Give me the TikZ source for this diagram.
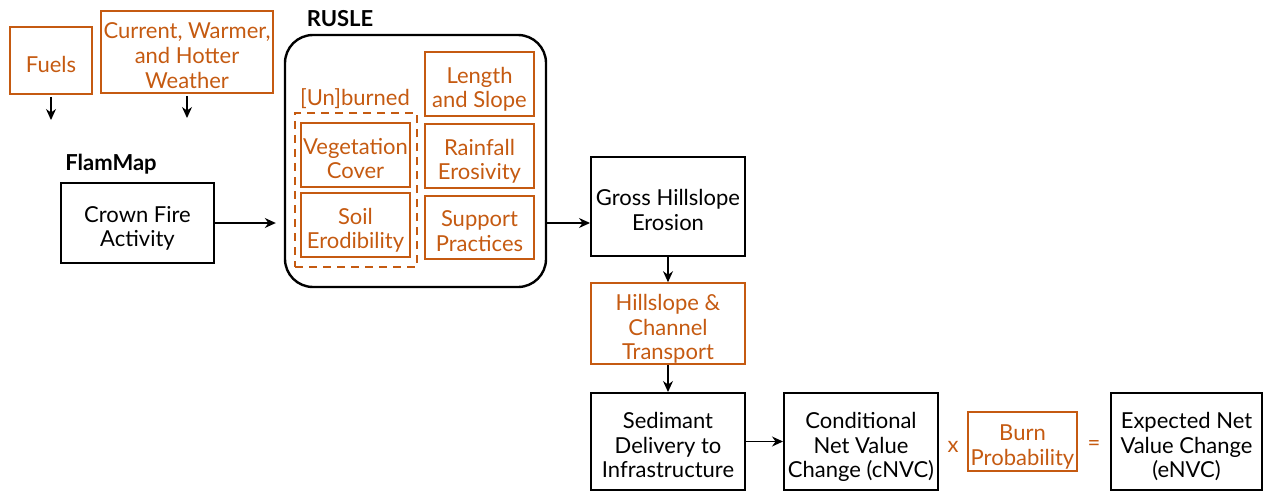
\documentclass[tikz,border=0pt]{standalone}
\usepackage{fontspec}
\setmainfont{Lato}
\usetikzlibrary{arrows.meta}
\definecolor{org}{RGB}{197,90,17}
\newcommand{\tx}[1]{\raisebox{-3.3pt}[\height][\depth]{\begin{tabular}{@{}c@{}}#1\end{tabular}}}
\tikzset{
  box/.style={draw=black, line width=1pt, align=center, inner sep=0pt, font=\fontsize{11}{12.4}\selectfont},
  obox/.style={draw=org, line width=0.8pt, text=org, align=center, inner sep=0pt, font=\fontsize{11}{12.4}\selectfont},
  lbl/.style={font=\fontsize{11}{12.4}\selectfont\bfseries, inner sep=0pt},
  olbl/.style={text=org, font=\fontsize{11}{12.4}\selectfont, inner sep=0pt},
  arr/.style={-{Stealth[length=5.5pt,width=5pt]}, line width=0.6pt}
}
\begin{document}
\begin{tikzpicture}[x=0.5pt,y=-0.5pt]
\useasboundingbox (0,0) rectangle (1263,492);
% top inputs
\node[obox, minimum width=41pt, minimum height=33.5pt] (fuels) at (51,60.5) {\tx{Fuels}};
\node[obox, minimum width=86pt, minimum height=41pt] (weather) at (187,52) {\tx{Current, Warmer,\\and Hotter\\Weather}};
\coordinate (fuelsEnd) at (51,120);
\coordinate (weatherEnd) at (187,118);
\draw[arr] ([yshift=-1pt]fuels.south) -- (fuelsEnd);
\draw[arr] ([yshift=-1pt]weather.south) -- (weatherEnd);
% FlamMap
\node[lbl] (flam) at (111,164) {FlamMap};
\node[box, minimum width=76.5pt, minimum height=40pt] (crown) at (137.5,223) {\tx{Crown Fire\\Activity}};
% RUSLE
\node[lbl] (ruslelbl) at (340,19) {RUSLE};
\node[draw=black, line width=1.2pt, rounded corners=14pt, minimum width=130.5pt, minimum height=126pt, inner sep=0pt] (rusle) at (415.5,161) {};
\node[olbl] (unb) at (355,98.5) {[Un]burned};
\node[draw=org, line width=1.2pt, dash pattern=on 4pt off 3pt, minimum width=61pt, minimum height=77pt, inner sep=0pt] (dash) at (356,190) {};
\node[obox, minimum width=54.5pt, minimum height=32pt] (veg) at (355.5,155) {\tx{Vegetation\\Cover}};
\node[obox, minimum width=54.5pt, minimum height=32pt] (soil) at (355.5,225) {\tx{Soil\\Erodibility}};
\node[obox, minimum width=54.5pt, minimum height=32pt] (len) at (479.5,84) {\tx{Length\\and Slope}};
\node[obox, minimum width=54.5pt, minimum height=32pt] (rain) at (479.5,156) {\tx{Rainfall\\Erosivity}};
\node[obox, minimum width=54.5pt, minimum height=31.5pt] (supp) at (479.5,227.5) {\tx{Support\\Practices}};
% right chain
\node[box, minimum width=77pt, minimum height=49.5pt] (gross) at (668,206.5) {\tx{Gross Hillslope\\Erosion}};
\node[obox, minimum width=77pt, minimum height=40.5pt] (trans) at (668,323.5) {\tx{Hillslope \&\\Channel\\Transport}};
\node[box, minimum width=77pt, minimum height=48.5pt] (sed) at (668,441.5) {\tx{Sedimant\\Delivery to\\Infrastructure}};
\node[box, minimum width=77pt, minimum height=48.5pt] (cond) at (861,441.5) {\tx{Conditional\\Net Value\\Change (cNVC)}};
\node[olbl] (times) at (953,447) {x};
\node[obox, minimum width=54.5pt, minimum height=29.5pt] (burn) at (1022.5,441.5) {\tx{Burn\\Probability}};
\node[olbl] (eq) at (1094,445) {=};
\node[box, minimum width=75.5pt, minimum height=48.5pt] (exp) at (1186.5,441.5) {\tx{Expected Net\\Value Change\\(eNVC)}};
% connectors
\draw[arr, shorten >=4pt] (crown.east) -- (rusle.west |- crown.east);
\draw[arr] (rusle.east |- crown.east) -- (gross.west |- crown.east);
\draw[arr] (gross.south) -- (trans.north);
\draw[arr] (trans.south) -- (sed.north);
\draw[arr] (sed.east) -- (cond.west);
\end{tikzpicture}
\end{document}
